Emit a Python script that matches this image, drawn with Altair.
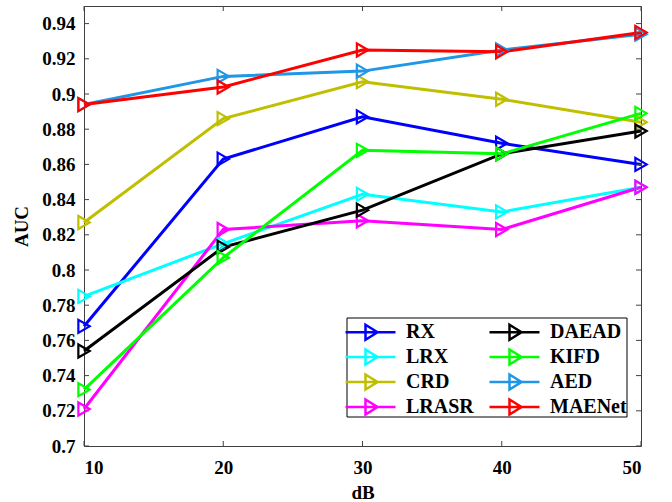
import altair as alt
import pandas as pd

x_db = [10, 20, 30, 40, 50]
rx = [0.768, 0.863, 0.887, 0.872, 0.860]
lrx = [0.785, 0.815, 0.843, 0.833, 0.847]
crd = [0.827, 0.886, 0.907, 0.897, 0.884]
lrasr = [0.721, 0.823, 0.828, 0.823, 0.847]
daead = [0.754, 0.813, 0.834, 0.866, 0.879]
kifd = [0.732, 0.807, 0.868, 0.866, 0.889]
aed = [0.894, 0.910, 0.913, 0.925, 0.934]
maenet = [0.894, 0.904, 0.925, 0.924, 0.935]

series = {"RX": rx, "LRX": lrx, "CRD": crd, "LRASR": lrasr,
          "DAEAD": daead, "KIFD": kifd, "AED": aed, "MAENet": maenet}
colors = {"RX": "#0000FF", "LRX": "#00FFFF", "CRD": "#BFBF00", "LRASR": "#FF00FF",
          "DAEAD": "#000000", "KIFD": "#00FF00", "AED": "#1F96E6", "MAENet": "#FF0000"}
legend_order = list(series.keys())

y_ticks = [0.7, 0.72, 0.74, 0.76, 0.78, 0.8, 0.82, 0.84, 0.86, 0.88, 0.9, 0.92, 0.94]

rows = []
for k, (name, vals) in enumerate(series.items()):
    for xv, yv in zip(x_db, vals):
        rows.append({"dB": xv, "AUC": yv, "method": name, "k": k})
df = pd.DataFrame(rows)

W, H = 557, 440
FONT = "Liberation Serif"

xs = alt.Scale(domain=[10, 50], nice=False, zero=False)
ys = alt.Scale(domain=[0.7, 0.95], nice=False, zero=False)
cs = alt.Scale(domain=legend_order, range=[colors[m] for m in legend_order])

sym = "M-1,0L1,0M-0.2,-0.3L0.28,0L-0.2,0.3Z"

legend = alt.Legend(
    title=None, orient="none", legendX=256, legendY=309.75, columns=2,
    symbolType=sym, symbolSize=2500, symbolStrokeWidth=2.5, symbolOpacity=1,
    symbolFillColor="transparent", symbolOffset=0, labelOffset=9,
    clipHeight=24.5,
    labelFont=FONT, labelFontSize=20, labelFontWeight="bold", labelColor="black",
    strokeColor="transparent", fillColor="transparent", padding=4, rowPadding=0,
    columnPadding=14, labelLimit=300,
)

xaxis = alt.Axis(values=x_db, title="dB", ticks=False, domain=False, grid=False,
                 labelPadding=12, titlePadding=6, labelFont=FONT, titleFont=FONT)
yaxis = alt.Axis(values=y_ticks, format=".2~f", title="AUC", ticks=False, domain=False,
                 grid=False, labelPadding=9, titlePadding=10, labelOverlap=False,
                 labelFont=FONT, titleFont=FONT)

base = alt.Chart(df)
lines = base.mark_line(strokeWidth=3).encode(
    x=alt.X("dB:Q", scale=xs, axis=xaxis),
    y=alt.Y("AUC:Q", scale=ys, axis=yaxis),
    color=alt.Color("method:N", scale=cs, legend=legend),
    order=alt.Order("dB:Q"),
    detail="k:O",
)
points = base.mark_point(shape="triangle-right", filled=False, size=170,
                         strokeWidth=2.2, opacity=1).encode(
    x=alt.X("dB:Q", scale=xs, axis=xaxis),
    y=alt.Y("AUC:Q", scale=ys, axis=yaxis),
    color=alt.Color("method:N", scale=cs, legend=legend),
)

tick_len = 5
ydf = pd.DataFrame({"v": y_ticks})
xdf = pd.DataFrame({"v": x_db})
tick_color = "#404040"
yt_left = alt.Chart(ydf).mark_rule(color=tick_color, strokeWidth=1).encode(
    y=alt.Y("v:Q", scale=ys, axis=yaxis), x=alt.value(0), x2=alt.value(tick_len))
yt_right = alt.Chart(ydf).mark_rule(color=tick_color, strokeWidth=1).encode(
    y=alt.Y("v:Q", scale=ys, axis=yaxis), x=alt.value(W - tick_len), x2=alt.value(W))
xt_bot = alt.Chart(xdf).mark_rule(color=tick_color, strokeWidth=1).encode(
    x=alt.X("v:Q", scale=xs, axis=xaxis), y=alt.value(H), y2=alt.value(H - tick_len))
xt_top = alt.Chart(xdf).mark_rule(color=tick_color, strokeWidth=1).encode(
    x=alt.X("v:Q", scale=xs, axis=xaxis), y=alt.value(0), y2=alt.value(tick_len))

# legend frame (white box with black border behind the legend entries)
frame = alt.Chart(pd.DataFrame({"f": [0]})).mark_rect(
    fill="white", stroke="black", strokeWidth=1
).encode(x=alt.value(263), x2=alt.value(543), y=alt.value(312), y2=alt.value(411))

chart = alt.layer(lines, yt_left, yt_right, xt_bot, xt_top, points, frame).properties(
    width=W, height=H,
    autosize=alt.AutoSizeParams(type="none"),
    padding={"left": 84, "top": 6, "right": 31, "bottom": 56},
    background="white",
).configure_view(
    stroke=tick_color, strokeWidth=1
).configure_axis(
    labelFont=FONT, labelFontSize=19, labelFontWeight="bold", labelColor="black",
    titleFont=FONT, titleFontSize=19, titleFontWeight="bold", titleColor="black",
    labelOverlap=False,
)

chart.save("out.html", embed_options={"renderer": "svg", "actions": False})
